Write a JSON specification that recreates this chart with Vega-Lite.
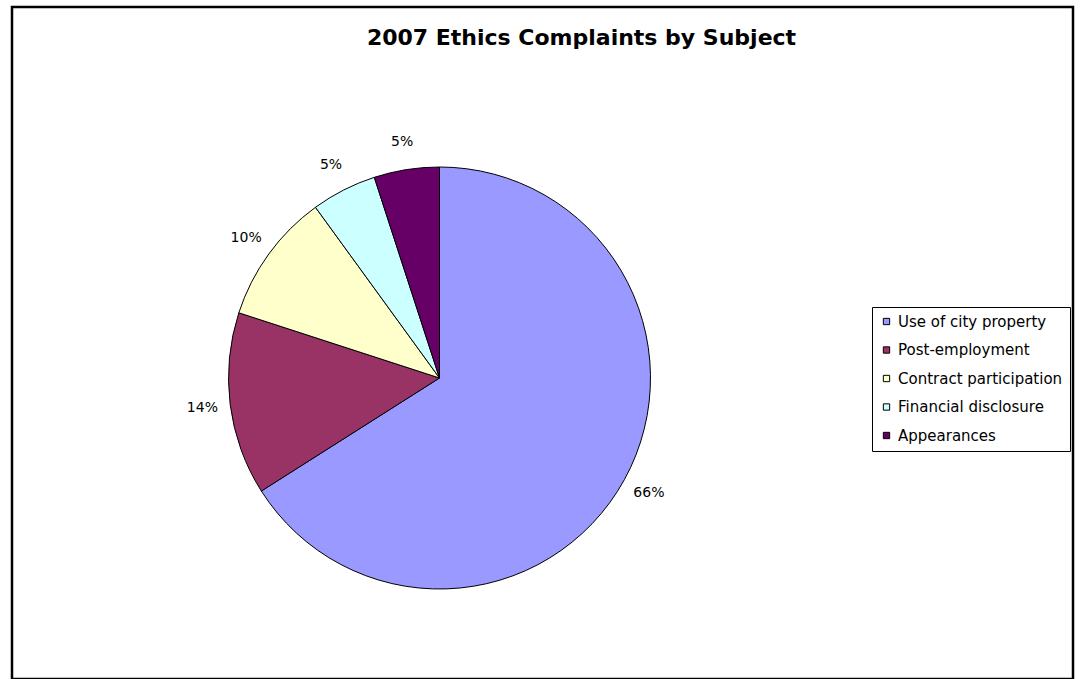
{
  "$schema": "https://vega.github.io/schema/vega-lite/v6.json",
  "width": 1061,
  "height": 672,
  "autosize": {"type": "none"},
  "padding": {"left": 12, "top": 7, "right": 9, "bottom": 0},
  "background": "white",
  "view": {"stroke": "black", "strokeWidth": 2.5, "fill": "white"},
  "config": {"view": {"stroke": "black", "strokeWidth": 2.5}},
  "title": {
    "text": "2007 Ethics Complaints by Subject",
    "font": "DejaVu Sans",
    "fontWeight": "bold",
    "fontSize": 22,
    "color": "black",
    "anchor": "middle",
    "frame": "group",
    "orient": "top",
    "baseline": "alphabetic",
    "offset": -37,
    "dx": 39,
    "dy": 23
  },
  "data": {
    "values": [
      {"subject": "Use of city property", "share": 0.66, "idx": 1},
      {"subject": "Post-employment", "share": 0.14, "idx": 2},
      {"subject": "Contract participation", "share": 0.10, "idx": 3},
      {"subject": "Financial disclosure", "share": 0.05, "idx": 4},
      {"subject": "Appearances", "share": 0.05, "idx": 5}
    ]
  },
  "encoding": {
    "theta": {"field": "share", "type": "quantitative", "stack": true},
    "order": {"field": "idx", "type": "quantitative"}
  },
  "layer": [
    {
      "mark": {"type": "arc", "x": 427.5, "y": 371, "radius": 211, "stroke": "black", "strokeWidth": 1},
      "encoding": {
        "color": {
          "field": "subject",
          "type": "nominal",
          "scale": {
            "domain": ["Use of city property", "Post-employment", "Contract participation", "Financial disclosure", "Appearances"],
            "range": ["#9999FF", "#993366", "#FFFFCC", "#CCFFFF", "#660066"]
          },
          "legend": {
            "title": null,
            "orient": "none",
            "legendX": 860,
            "legendY": 300,
            "strokeColor": "black",
            "fillColor": "white",
            "padding": 7,
            "rowPadding": 12.5,
            "labelFont": "DejaVu Sans",
            "labelFontSize": 15,
            "labelColor": "black",
            "labelOffset": 4,
            "labelLimit": 400,
            "symbolType": "square",
            "symbolSize": 40,
            "symbolStrokeColor": "black",
            "symbolStrokeWidth": 1,
            "symbolOpacity": 1
          }
        }
      }
    },
    {
      "mark": {"type": "text", "x": 427.5, "y": 371, "radius": 239, "font": "DejaVu Sans", "fontSize": 14, "color": "black"},
      "encoding": {
        "text": {"field": "share", "type": "quantitative", "format": ".0%"}
      }
    }
  ]
}
